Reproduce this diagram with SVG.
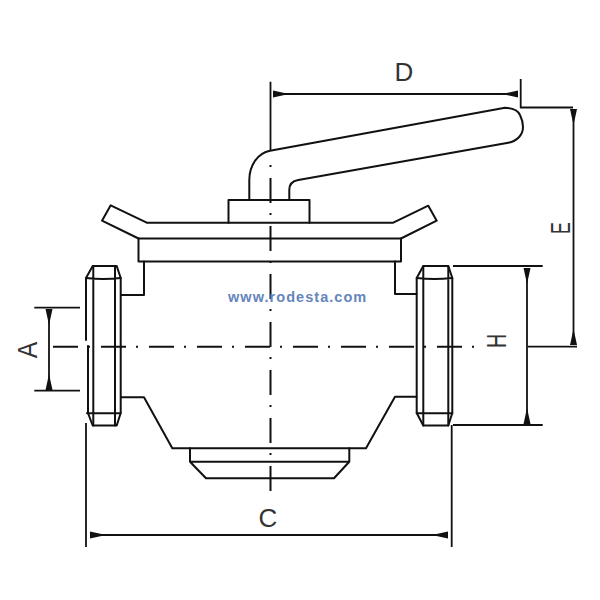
<svg xmlns="http://www.w3.org/2000/svg" width="600" height="600" viewBox="0 0 600 600">
<style>
.o{fill:none;stroke:#111;stroke-width:2;stroke-linejoin:round;stroke-linecap:round}
.d{fill:none;stroke:#111;stroke-width:1.8}
.c{fill:none;stroke:#111;stroke-width:2}
.l{font-family:"Liberation Sans",Arial,sans-serif;font-size:26px;fill:#333;text-anchor:middle}
.w{font-family:"Liberation Sans",Arial,sans-serif;font-size:14.500px;font-weight:bold;fill:#6585bb;letter-spacing:1.050px}
</style>
<defs>
<marker id="a" viewBox="0 0 16 8" refX="16" refY="4" markerWidth="16" markerHeight="8" markerUnits="userSpaceOnUse" orient="auto-start-reverse"><path d="M0 4L16 .5V7.500Z" fill="#111"/></marker>
</defs>
<rect width="600" height="600" fill="#fff"/>
<g id="valve-body">
<path class="o" d="M146.700 222.700L110.700 205.300 102 220.700 138.500 238.500M146.700 222.700H393.300L428.300 205.700 436.700 220.700 401 238.500"/>
<path class="o" d="M138.500 238.500H401V261.500H138.500Z"/>
<path class="o" d="M228.500 222.700V200H309.500V222.700"/>
<path class="o" d="M144 261.500V295H121.500M395 261.500V294H416.500"/>
<path class="o" d="M121.500 397.300H144L172.300 448.300H366L395 396.700H416.500"/>
<path class="o" d="M190 448.300V461.700L206 478.300H334L349.300 461.700V448.300M190 461.700H349.300"/>
</g>
<g id="handle">
<path class="o" d="M249.300 199V180C249.300 165 258 153 270 150.700L505 107.700Q517 108 520 115Q523 121 523 127C523 135 517 141 508.300 142.700L298.300 180C292 181 289.300 185 289.300 190V199"/>
</g>
<g id="left-flange">
<path class="o" d="M86 278V340M88 346V413L92.700 425.500H116.700L120.700 413V278L116.700 266H92.700L86 278"/>
<path class="o" d="M93.300 266V425.500M115 266V425.500M86 278Q103 280 120.700 278M87 413.300H120.700"/>
</g>
<g id="right-flange">
<path class="o" d="M416.700 278V413L423.300 425.500H448.300L452.300 413V278L448.300 266H423.300L416.700 278Z"/>
<path class="o" d="M423.300 266V425.500M448.300 266V425.500M416.700 278Q434 280 452.300 278M416.700 413.300H452.300"/>
</g>
<g id="connectors">
<line class="c" x1="270.500" y1="165" x2="270.500" y2="491" stroke-dasharray="2 11 25 10"/>
<line class="c" x1="53" y1="346.700" x2="474" y2="346.700" stroke-dasharray="25 10 2 11"/>
<path class="d" d="M270.500 81.700V151M520.700 79V108M520 107.500H573M528 346.700H577M34.300 307.700H80M34.300 390.700H80M453 266H542.700M453 425H542.700M86 423V547M451.700 425V547"/>
<line class="d" x1="273" y1="94" x2="518" y2="94" marker-start="url(#a)" marker-end="url(#a)"/>
<line class="d" x1="573.500" y1="109" x2="573.500" y2="345" marker-start="url(#a)" marker-end="url(#a)"/>
<line class="d" x1="49" y1="309" x2="49" y2="390" marker-start="url(#a)" marker-end="url(#a)"/>
<line class="d" x1="527" y1="268" x2="527" y2="424" marker-start="url(#a)" marker-end="url(#a)"/>
<line class="d" x1="90" y1="535" x2="448" y2="535" marker-start="url(#a)" marker-end="url(#a)"/>
</g>
<g id="labels">
<text class="l" x="404" y="80.500">D</text>
<text class="l" x="268" y="527">C</text>
<text class="l" transform="translate(570 228) rotate(-90) scale(.68 1.050)">E</text>
<text class="l" transform="translate(37 350) rotate(-90) scale(.95 1.050)">A</text>
<text class="l" transform="translate(506 341) rotate(-90) scale(.75 1.050)">H</text>
<text class="w" x="228" y="302">www.rodesta.com</text>
</g>
</svg>
